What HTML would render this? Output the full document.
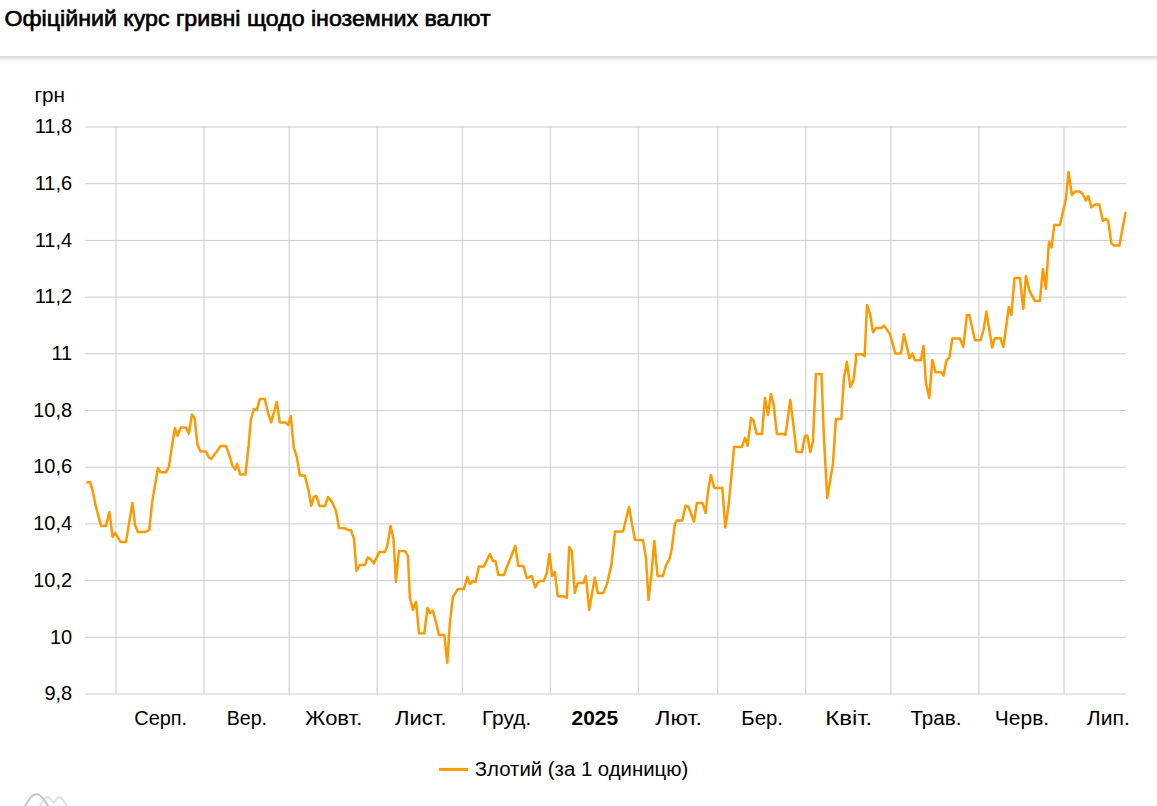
<!DOCTYPE html>
<html><head><meta charset="utf-8">
<style>
html,body{margin:0;padding:0;background:#fff;width:1157px;height:806px;overflow:hidden;}
.hdr{position:absolute;left:-20px;top:0;width:1197px;height:56px;background:#fff;box-shadow:0 2px 5px rgba(0,0,0,0.2);z-index:2;}
svg{position:absolute;left:0;top:0;}
svg text{font-family:"Liberation Sans",sans-serif;font-size:20px;fill:#000;}
</style></head><body>
<div class="hdr"><svg width="1157" height="56" style="left:20px"><text x="4.5" y="25.6" style="font-size:22.5px;stroke:#000;stroke-width:0.65px" textLength="486" lengthAdjust="spacingAndGlyphs">Офіційний курс гривні щодо іноземних валют</text></svg></div>
<svg width="1157" height="806" viewBox="0 0 1157 806">
<g stroke="#cccccc" stroke-width="1" fill="none"><line x1="85" y1="127.0" x2="1126" y2="127.0"/><line x1="85" y1="183.7" x2="1126" y2="183.7"/><line x1="85" y1="240.4" x2="1126" y2="240.4"/><line x1="85" y1="297.1" x2="1126" y2="297.1"/><line x1="85" y1="353.8" x2="1126" y2="353.8"/><line x1="85" y1="410.5" x2="1126" y2="410.5"/><line x1="85" y1="467.2" x2="1126" y2="467.2"/><line x1="85" y1="523.9" x2="1126" y2="523.9"/><line x1="85" y1="580.6" x2="1126" y2="580.6"/><line x1="85" y1="637.3" x2="1126" y2="637.3"/><line x1="85" y1="694.0" x2="1126" y2="694.0"/><line x1="116.0" y1="127.0" x2="116.0" y2="694.0"/><line x1="204.0" y1="127.0" x2="204.0" y2="694.0"/><line x1="289.1" y1="127.0" x2="289.1" y2="694.0"/><line x1="377.1" y1="127.0" x2="377.1" y2="694.0"/><line x1="462.3" y1="127.0" x2="462.3" y2="694.0"/><line x1="550.3" y1="127.0" x2="550.3" y2="694.0"/><line x1="638.3" y1="127.0" x2="638.3" y2="694.0"/><line x1="717.8" y1="127.0" x2="717.8" y2="694.0"/><line x1="805.8" y1="127.0" x2="805.8" y2="694.0"/><line x1="890.9" y1="127.0" x2="890.9" y2="694.0"/><line x1="978.9" y1="127.0" x2="978.9" y2="694.0"/><line x1="1064.0" y1="127.0" x2="1064.0" y2="694.0"/></g>
<text x="34.5" y="102" textLength="30.5" lengthAdjust="spacingAndGlyphs">грн</text>
<g><text x="72.2" y="133.2" text-anchor="end">11,8</text><text x="72.2" y="189.9" text-anchor="end">11,6</text><text x="72.2" y="246.6" text-anchor="end">11,4</text><text x="72.2" y="303.3" text-anchor="end">11,2</text><text x="72.2" y="360.0" text-anchor="end">11</text><text x="72.2" y="416.7" text-anchor="end">10,8</text><text x="72.2" y="473.4" text-anchor="end">10,6</text><text x="72.2" y="530.1" text-anchor="end">10,4</text><text x="72.2" y="586.8" text-anchor="end">10,2</text><text x="72.2" y="643.5" text-anchor="end">10</text><text x="72.2" y="700.2" text-anchor="end">9,8</text></g>
<g><text x="160.7" y="725" text-anchor="middle" textLength="52.8" lengthAdjust="spacingAndGlyphs">Серп.</text><text x="246.9" y="725" text-anchor="middle" textLength="40.4" lengthAdjust="spacingAndGlyphs">Вер.</text><text x="333.7" y="725" text-anchor="middle" textLength="57.2" lengthAdjust="spacingAndGlyphs">Жовт.</text><text x="420.8" y="725" text-anchor="middle" textLength="51.5" lengthAdjust="spacingAndGlyphs">Лист.</text><text x="506.6" y="725" text-anchor="middle" textLength="49.2" lengthAdjust="spacingAndGlyphs">Груд.</text><text x="594.8" y="725" text-anchor="middle" font-weight="bold" textLength="46.6" lengthAdjust="spacingAndGlyphs">2025</text><text x="678.6" y="725" text-anchor="middle" textLength="46.5" lengthAdjust="spacingAndGlyphs">Лют.</text><text x="762.1" y="725" text-anchor="middle" textLength="41.6" lengthAdjust="spacingAndGlyphs">Бер.</text><text x="848.7" y="725" text-anchor="middle" textLength="47.0" lengthAdjust="spacingAndGlyphs">Квіт.</text><text x="935.9" y="725" text-anchor="middle" textLength="51.0" lengthAdjust="spacingAndGlyphs">Трав.</text><text x="1022.0" y="725" text-anchor="middle" textLength="54.3" lengthAdjust="spacingAndGlyphs">Черв.</text><text x="1108.3" y="725" text-anchor="middle" textLength="43.0" lengthAdjust="spacingAndGlyphs">Лип.</text></g>
<polyline points="87.4,482.5 90.0,481.9 93.0,491.9 95.0,502.9 101.0,525.9 106.0,525.9 109.4,511.9 112.6,536.9 115.0,532.9 120.6,541.9 126.0,541.9 132.4,502.9 135.0,524.9 137.9,531.9 145.9,531.9 149.3,529.9 151.9,503.9 157.9,467.9 160.5,472.3 165.9,472.3 168.9,466.9 172.3,444.0 174.9,428.0 177.5,435.6 180.9,427.4 185.9,427.4 188.9,433.6 191.9,414.4 194.5,418.0 197.5,445.0 200.5,451.5 205.9,451.5 208.9,457.5 211.3,458.9 214.5,454.3 216.9,451.5 220.5,446.0 225.9,446.0 228.9,453.9 232.5,465.9 235.2,469.5 237.2,463.9 240.2,474.5 245.4,474.5 248.4,448.0 250.8,420.0 253.8,409.0 256.8,410.0 259.8,399.0 264.8,399.0 267.8,412.0 271.2,422.4 276.8,402.0 279.8,422.6 285.4,422.6 288.4,425.0 290.8,416.0 293.8,448.0 296.8,456.9 299.8,475.5 304.8,475.5 308.4,489.9 311.2,505.9 313.8,496.9 316.0,495.9 316.6,496.4 319.4,506.0 325.0,506.0 328.0,497.0 332.0,502.0 336.0,510.9 339.0,527.9 345.0,528.3 348.0,529.9 351.0,530.3 354.0,538.9 356.5,570.9 359.9,564.9 364.9,564.9 367.9,557.3 370.9,559.5 373.9,563.5 379.3,551.9 384.9,551.9 387.3,545.9 390.5,525.9 393.5,538.9 395.9,581.9 398.9,550.9 404.9,550.9 407.9,555.9 409.9,597.9 413.0,609.9 416.0,601.9 419.0,633.5 424.3,633.5 427.5,607.9 429.9,612.9 432.9,610.9 435.9,621.9 438.9,634.9 444.3,634.9 447.3,662.9 449.9,622.9 452.9,596.9 457.9,589.0 463.9,589.0 467.3,577.0 469.9,584.0 472.9,581.0 475.5,582.0 478.9,566.4 483.9,566.4 489.9,554.0 492.9,561.0 495.5,561.0 498.3,575.0 503.9,575.0 506.9,567.0 515.3,546.0 518.3,566.0 523.4,566.0 526.8,578.0 531.8,576.0 535.2,587.4 538.8,581.0 543.8,581.0 546.8,573.0 549.4,554.0 552.2,576.0 554.8,572.0 557.8,596.3 563.8,596.3 566.8,597.9 569.2,547.0 571.8,551.0 574.8,592.9 577.8,583.0 583.4,583.0 585.8,576.0 589.2,609.9 594.8,577.6 597.8,592.9 601.0,592.9 603.4,592.9 607.0,583.9 611.4,564.9 615.0,531.5 623.0,531.5 629.0,507.0 632.0,523.9 635.0,539.9 643.0,539.9 645.9,557.9 648.5,599.9 651.3,575.9 654.3,540.9 657.5,575.9 662.9,575.9 665.9,565.5 669.9,557.9 671.9,547.9 674.9,523.9 676.9,520.5 682.3,520.5 685.5,505.6 688.5,507.0 693.9,521.5 696.9,503.0 702.5,503.0 705.5,512.9 708.5,488.0 710.9,475.0 714.3,488.0 722.3,488.0 725.3,527.5 728.5,506.0 732.9,460.0 734.0,446.9 742.0,446.9 745.0,437.9 747.6,445.9 751.0,417.9 753.6,420.9 756.6,433.9 762.0,433.9 765.0,398.0 768.0,414.9 770.9,394.0 773.5,404.0 776.9,433.9 783.5,433.9 785.5,434.9 790.3,400.0 793.5,425.9 796.5,451.9 801.9,451.9 804.9,435.9 807.3,435.5 810.3,452.3 812.9,441.9 815.9,374.0 821.5,374.0 823.9,437.9 827.3,497.9 832.9,463.9 835.9,418.9 841.3,418.9 843.9,378.0 846.9,362.0 850.3,387.0 853.5,380.0 855.9,360.0 856.0,354.3 862.0,354.3 864.6,356.3 867.0,305.0 870.0,314.0 873.0,332.3 876.0,328.0 881.4,328.0 884.0,325.6 889.9,333.9 895.3,353.5 900.9,353.5 903.9,334.3 906.9,346.9 909.5,358.5 912.3,353.5 914.9,360.3 920.9,360.3 923.5,345.9 925.9,382.9 929.3,397.9 932.3,359.9 935.5,372.3 940.9,372.3 943.5,375.5 946.5,360.3 949.3,357.9 952.3,338.5 959.9,338.5 963.3,346.9 966.9,315.0 969.3,315.0 974.9,340.3 980.5,340.3 983.5,330.0 986.4,311.6 989.2,329.0 992.2,347.5 994.8,338.3 1000.4,338.3 1003.4,346.9 1008.8,307.0 1011.4,315.0 1014.5,277.9 1019.9,277.9 1023.3,308.9 1025.9,275.9 1029.5,290.9 1034.9,300.9 1039.9,300.9 1042.9,268.9 1045.9,288.9 1048.9,241.9 1051.5,247.5 1054.3,224.9 1059.9,224.9 1065.9,199.0 1068.5,172.0 1071.9,195.0 1074.9,191.6 1079.8,191.6 1082.8,194.0 1085.8,200.6 1088.2,196.0 1091.4,207.4 1094.8,204.4 1099.4,204.4 1102.8,220.9 1105.8,218.9 1108.2,220.9 1111.4,243.5 1114.2,245.5 1119.4,245.5 1125.4,212.9" fill="none" stroke="#ff9900" stroke-width="2.5" stroke-linejoin="round" stroke-linecap="round"/>
<line x1="439" y1="769.4" x2="468" y2="769.4" stroke="#ff9900" stroke-width="3"/>
<text x="474.8" y="776" textLength="213.5" lengthAdjust="spacingAndGlyphs">Злотий (за 1 одиницю)</text>
<g fill="none" stroke-width="2.1" stroke-linecap="round" stroke-linejoin="round">
<path d="M39,808 C43,800 45,797 47.7,797 C50,797 51.5,802 53.4,802.5 C55.5,802 57,797 59.2,797 C62,797 64,801 68,808" stroke="#e2e2e2"/>
<path d="M24,808 C29,798 33,794 36.5,794 C40,794 44,798 49,808" stroke="#c6c6c6"/>
</g>
</svg>
</body></html>
